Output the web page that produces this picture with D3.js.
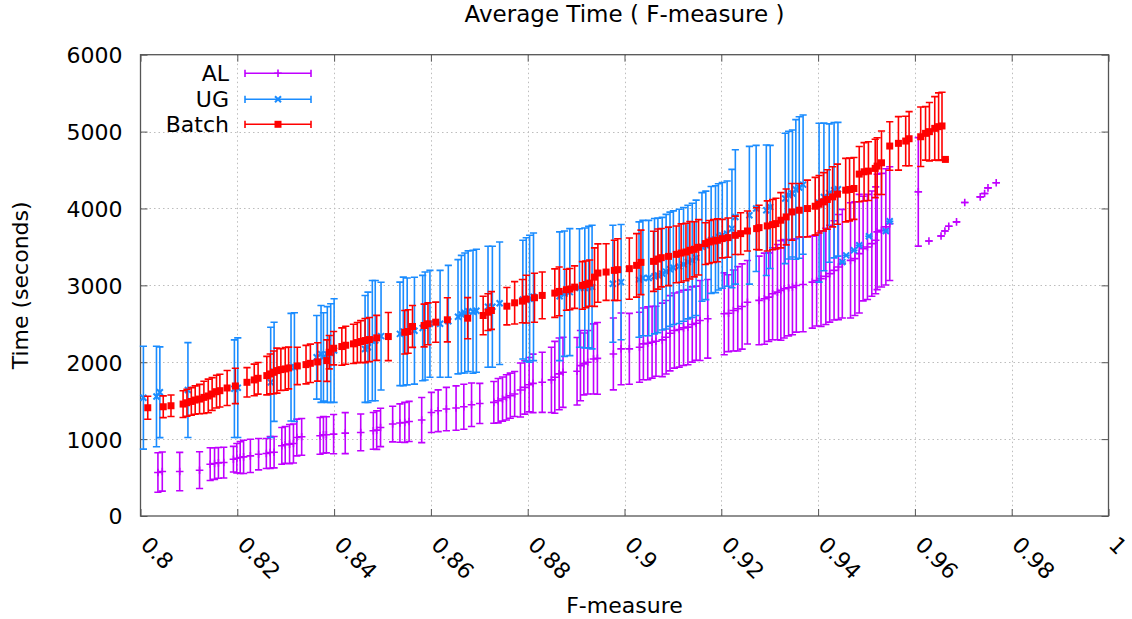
<!DOCTYPE html>
<html><head><meta charset="utf-8">
<script src="https://cdn.jsdelivr.net/npm/d3@7/dist/d3.min.js"></script>
<style>body{margin:0;background:#fff}svg{display:block}</style>
</head><body><svg id="c" width="1132" height="619"></svg>
<script>
// ---------------- data ----------------
const seriesNames = ["AL", "UG", "Batch"];
const xTicks = [0.8, 0.82, 0.84, 0.86, 0.88, 0.9, 0.92, 0.94, 0.96, 0.98, 1];
const xTickLabels = ["0.8", "0.82", "0.84", "0.86", "0.88", "0.9", "0.92", "0.94", "0.96", "0.98", "1"];
const yTicks = [0, 1000, 2000, 3000, 4000, 5000, 6000];
const yTickLabels = ["0", "1000", "2000", "3000", "4000", "5000", "6000"];

const alX = [0.8036,0.8045,0.8081,0.8122,0.8144,0.8153,0.8161,0.8172,0.8192,0.8199,
0.8206,0.8213,0.8227,0.8244,0.8260,0.8268,0.8276,0.8292,0.8299,0.8308,
0.8316,0.8323,0.8333,0.8371,0.8378,0.8384,0.8399,0.8423,0.8455,0.8481,
0.8488,0.8496,0.8521,0.8536,0.8546,0.8555,0.8581,0.8601,0.8615,0.8632,
0.8652,0.8668,0.8684,0.8701,0.8730,0.8739,0.8748,0.8756,0.8764,0.8773,
0.8785,0.8794,0.8803,0.8811,0.8830,0.8849,0.8856,0.8865,0.8873,0.8902,
0.8909,0.8916,0.8924,0.8936,0.8944,0.8977,0.8993,0.9010,0.9031,0.9039,
0.9048,0.9057,0.9065,0.9078,0.9086,0.9094,0.9103,0.9113,0.9122,0.9131,
0.9140,0.9148,0.9156,0.9172,0.9206,0.9215,0.9225,0.9234,0.9243,0.9254,
0.9278,0.9289,0.9298,0.9306,0.9316,0.9323,0.9330,0.9339,0.9347,0.9355,
0.9369,0.9388,0.9397,0.9406,0.9416,0.9424,0.9433,0.9442,0.9450,0.9467,
0.9476,0.9485,0.9493,0.9502,0.9511,0.9519,0.9522,0.9531,0.9540,0.9548,
0.9607,0.9629,0.9654,0.9662,0.9670,0.9686,0.9703,0.9735,0.9744,0.9751,0.9768];
const alY = [565,578,578,596,674,682,691,695,739,752,
761,769,782,804,813,826,830,913,926,935,
943,1021,1030,1043,1056,1056,1065,1078,1087,1108,
1117,1152,1196,1209,1217,1230,1248,1347,1369,1391,
1404,1421,1447,1464,1478,1500,1521,1543,1565,1587,
1639,1673,1708,1725,1739,1770,1804,1848,1869,1882,
1956,1978,1999,2043,2050,2108,2174,2174,2195,2239,
2247,2260,2273,2291,2325,2377,2412,2425,2447,2456,
2491,2508,2543,2565,2630,2638,2673,2695,2725,2781,
2804,2826,2847,2891,2912,2934,2956,2969,2977,2999,
3012,3042,3064,3086,3117,3152,3195,3238,3282,3325,
3347,3412,3478,3499,3543,3586,3695,3717,3760,3803,
4216,3577,3642,3707,3769,3825,4077,4151,4195,4268,4334];
const alErr = [257,254,250,239,213,206,200,200,167,191,
206,217,217,204,195,206,204,239,239,256,
254,239,239,239,239,235,256,267,239,239,
250,250,232,250,261,261,293,261,272,282,
289,293,282,261,272,289,287,295,293,293,
352,348,354,380,391,424,467,467,456,439,
456,402,413,456,467,467,467,461,456,467,
474,467,456,478,478,489,489,489,489,489,
489,482,521,511,532,500,526,548,554,543,
576,593,576,598,619,648,641,626,619,608,
615,598,593,619,626,630,645,684,706,750,
739,771,680,684,684,695,750,739,756,739,
706,0,0,0,0,0,0,0,0,0,0];

const ugX = [0.8006,0.8033,0.8040,0.8098,0.8194,0.8201,0.8269,0.8276,0.8311,0.8318,
0.8364,0.8373,0.8378,0.8386,0.8393,0.8400,0.8464,0.8470,0.8479,0.8485,
0.8497,0.8536,0.8543,0.8551,0.8566,0.8583,0.8588,0.8598,0.8619,0.8636,
0.8656,0.8663,0.8670,0.8677,0.8687,0.8694,0.8718,0.8727,0.8742,0.8790,
0.8797,0.8804,0.8812,0.8866,0.8876,0.8887,0.8907,0.8918,0.8926,0.8933,
0.8976,0.8993,0.9030,0.9038,0.9050,0.9062,0.9069,0.9078,0.9086,0.9094,
0.9101,0.9113,0.9122,0.9131,0.9140,0.9148,0.9160,0.9168,0.9179,0.9188,
0.9194,0.9202,0.9212,0.9222,0.9229,0.9258,0.9272,0.9293,0.9301,0.9332,
0.9339,0.9347,0.9354,0.9361,0.9369,0.9402,0.9412,0.9423,0.9433,0.9441,
0.9450,0.9458,0.9474,0.9485,0.9505,0.9540,0.9548];
const ugY = [1539,1554,1610,1638,1656,1669,1738,1876,1936,1936,
2064,2108,2069,2100,2119,2152,2173,2195,2282,2282,
2340,2369,2401,2401,2410,2445,2471,2500,2500,2532,
2591,2623,2640,2664,2656,2670,2721,2721,2767,2815,
2815,2825,2851,2858,2891,2912,2966,2966,2977,2978,
3021,3042,3075,3095,3095,3119,3130,3152,3178,3210,
3230,3247,3273,3303,3325,3358,3500,3520,3590,3600,
3630,3650,3673,3738,3890,3912,4000,3977,4020,4130,
4173,4195,4247,4273,4310,4075,4150,4200,4238,4250,
3303,3390,3456,3521,3638,3707,3834];
const ugErr = [669,654,590,617,635,648,717,645,700,707,
544,630,575,623,641,674,695,717,782,782,
701,673,706,695,695,685,702,695,695,728,
743,767,780,785,800,800,787,787,797,772,
804,826,830,837,815,826,771,780,790,804,
761,750,750,750,750,750,745,732,745,743,
739,743,739,739,743,750,706,706,695,695,
691,688,685,770,874,896,820,848,800,848,
830,826,908,920,906,1033,960,900,880,870,
0,0,0,0,0,0,0];

const batchX = [0.8015,0.8047,0.8063,0.8088,0.8096,0.8105,0.8113,0.8122,0.8131,0.8140,
0.8148,0.8157,0.8164,0.8179,0.8196,0.8220,0.8235,0.8243,0.8261,0.8268,
0.8275,0.8282,0.8290,0.8299,0.8306,0.8324,0.8342,0.8351,0.8366,0.8385,
0.8390,0.8399,0.8416,0.8424,0.8440,0.8448,0.8455,0.8464,0.8473,0.8488,
0.8512,0.8546,0.8553,0.8562,0.8586,0.8594,0.8610,0.8634,0.8676,0.8708,
0.8718,0.8725,0.8757,0.8773,0.8789,0.8797,0.8814,0.8830,0.8856,0.8865,
0.8880,0.8887,0.8897,0.8913,0.8920,0.8928,0.8938,0.8945,0.8962,0.8979,
0.8986,0.9010,0.9025,0.9034,0.9060,0.9069,0.9076,0.9091,0.9107,0.9117,
0.9127,0.9135,0.9144,0.9153,0.9167,0.9175,0.9184,0.9192,0.9202,0.9214,
0.9229,0.9240,0.9254,0.9273,0.9278,0.9295,0.9306,0.9313,0.9323,0.9334,
0.9346,0.9361,0.9378,0.9394,0.9402,0.9411,0.9419,0.9430,0.9440,0.9457,
0.9465,0.9474,0.9485,0.9495,0.9504,0.9518,0.9522,0.9531,0.9548,0.9566,
0.9581,0.9588,0.9612,0.9622,0.9630,0.9641,0.9649,0.9656,0.9663];
const batchY = [1408,1421,1434,1456,1473,1490,1508,1521,1543,1561,
1587,1617,1630,1665,1691,1739,1770,1791,1826,1848,
1869,1891,1904,1913,1925,1952,1969,1986,2004,2021,
2130,2182,2204,2221,2239,2256,2269,2282,2295,2317,
2334,2390,2399,2465,2478,2500,2521,2552,2573,2608,
2651,2673,2729,2773,2795,2821,2839,2869,2899,2921,
2943,2951,2977,2999,3012,3029,3107,3160,3173,3195,
3204,3217,3260,3299,3312,3342,3360,3377,3403,3420,
3434,3456,3469,3495,3543,3564,3577,3586,3608,3621,
3651,3673,3707,3738,3751,3773,3790,3803,3847,3890,
3955,3977,3999,4029,4055,4086,4117,4151,4186,4238,
4247,4260,4447,4477,4486,4521,4551,4594,4812,4847,
4877,4907,4933,4977,4999,5042,5064,5073,4638];
const batchErr = [150,142,140,174,176,180,185,191,209,219,
213,213,213,228,230,191,206,206,250,260,
278,293,272,278,272,243,250,250,250,270,
217,217,243,248,256,261,272,287,287,293,
313,283,283,272,278,272,261,287,267,250,
239,245,243,275,282,311,319,304,315,317,
267,269,276,309,304,300,380,380,369,391,
402,398,413,419,391,391,380,380,369,380,
374,374,359,360,272,280,280,280,250,255,
250,272,261,272,290,326,326,330,359,363,
369,348,369,376,374,380,387,391,391,413,
408,402,359,380,382,380,369,413,315,348,
322,352,387,348,380,413,439,439,0];

// ---------------- drawing ----------------
const colors = ["#c000ff", "#1a8cff", "#ff0000"];
const markerKinds = ["plus", "cross", "square"];
const FONT = "'DejaVu Sans', 'Liberation Sans', sans-serif";
const FS = 22;

const svg = d3.select("#c");
const L = 140.5, R = 1108.5, T = 54.7, B = 516;
const x = d3.scaleLinear().domain([0.8, 1]).range([L, R]);
const y = d3.scaleLinear().domain([0, 6000]).range([B, T]);

// grid
const grid = svg.append("g").attr("stroke", "#bdbdbd").attr("stroke-width", 1).attr("stroke-dasharray", "1.5,3");
grid.selectAll("line.v").data(xTicks.slice(1, -1)).join("line")
  .attr("x1", d => Math.round(x(d)) + 0.5).attr("x2", d => Math.round(x(d)) + 0.5)
  .attr("y1", T).attr("y2", B);
grid.selectAll("line.h").data(yTicks.slice(1, -1)).join("line")
  .attr("x1", L).attr("x2", R)
  .attr("y1", d => Math.round(y(d)) + 0.5).attr("y2", d => Math.round(y(d)) + 0.5);

// axes
function styleAxis(g) {
  g.select(".domain").remove();
  g.selectAll(".tick line").attr("stroke", "#555").attr("stroke-width", 1);
  g.selectAll("text").attr("font-family", FONT).attr("font-size", FS).attr("fill", "#000");
}
const ax = svg.append("g").attr("transform", `translate(0,${B})`)
  .call(d3.axisBottom(x).tickValues(xTicks).tickSize(-7).tickFormat((d, i) => xTickLabels[i]))
  .call(styleAxis);
ax.selectAll(".tick text").attr("x", 0).attr("y", 0).attr("dy", 0)
  .attr("text-anchor", "start").attr("transform", "translate(-1.5,30) rotate(45)");
svg.append("g").attr("transform", `translate(0,${T})`)
  .call(d3.axisTop(x).tickValues(xTicks).tickSize(-7).tickFormat(""))
  .call(styleAxis);
svg.append("g").attr("transform", `translate(${L},0)`)
  .call(d3.axisLeft(y).tickValues(yTicks).tickSize(-7).tickPadding(18).tickFormat((d, i) => yTickLabels[i]))
  .call(styleAxis)
  .selectAll(".tick text").attr("dy", "0.36em");
svg.append("g").attr("transform", `translate(${R},0)`)
  .call(d3.axisRight(y).tickValues(yTicks).tickSize(-7).tickFormat(""))
  .call(styleAxis);

// border
svg.append("rect").attr("x", L).attr("y", T).attr("width", R - L).attr("height", B - T)
  .attr("fill", "none").attr("stroke", "#555").attr("stroke-width", 1.3);

// series
function drawMarker(g, kind, cx, cy, color) {
  if (kind === "square") {
    g.append("rect").attr("x", cx - 3.5).attr("y", cy - 3.5).attr("width", 7).attr("height", 7).attr("fill", color);
  } else if (kind === "plus") {
    g.append("path").attr("d", `M${cx - 3.8},${cy}H${cx + 3.8}M${cx},${cy - 3.8}V${cy + 3.8}`)
      .attr("stroke", color).attr("stroke-width", 1.6).attr("fill", "none");
  } else {
    g.append("path").attr("d", `M${cx - 3},${cy - 3}L${cx + 3},${cy + 3}M${cx - 3},${cy + 3}L${cx + 3},${cy - 3}`)
      .attr("stroke", color).attr("stroke-width", 2).attr("fill", "none");
  }
}
function drawSeries(xs, ys, es, idx) {
  const color = colors[idx];
  const g = svg.append("g");
  const cap = 3.6;
  xs.forEach((xv, i) => {
    const cx = x(xv), y0 = y(ys[i] - es[i]), y1 = y(ys[i] + es[i]);
    g.append("path")
      .attr("d", `M${cx},${y0}V${y1}M${cx - cap},${y0}H${cx + cap}M${cx - cap},${y1}H${cx + cap}`)
      .attr("stroke", color).attr("stroke-width", 1.6).attr("fill", "none");
  });
  xs.forEach((xv, i) => drawMarker(g, markerKinds[idx], x(xv), y(ys[i]), color));
}
drawSeries(alX, alY, alErr, 0);
drawSeries(ugX, ugY, ugErr, 1);
drawSeries(batchX, batchY, batchErr, 2);

// legend
const legY = [73.3, 99.3, 124.3];
seriesNames.forEach((name, i) => {
  const g = svg.append("g");
  g.append("text").attr("x", 229).attr("y", legY[i]).attr("dy", "0.36em")
    .attr("text-anchor", "end").attr("font-family", FONT).attr("font-size", FS).text(name);
  const x0 = 245, x1 = 311, yy = legY[i];
  g.append("path").attr("d", `M${x0},${yy}H${x1}M${x0},${yy - 3.6}V${yy + 3.6}M${x1},${yy - 3.6}V${yy + 3.6}`)
    .attr("stroke", colors[i]).attr("stroke-width", 1.6).attr("fill", "none");
  drawMarker(g, markerKinds[i], (x0 + x1) / 2, yy, colors[i]);
});

// titles
svg.append("text").attr("x", (L + R) / 2).attr("y", 22).attr("text-anchor", "middle")
  .attr("font-family", FONT).attr("font-size", 23).text("Average Time ( F-measure )");
svg.append("text").attr("x", (L + R) / 2).attr("y", 613).attr("text-anchor", "middle")
  .attr("font-family", FONT).attr("font-size", FS).text("F-measure");
svg.append("text").attr("transform", `translate(28,${(T + B) / 2}) rotate(-90)`).attr("text-anchor", "middle")
  .attr("font-family", FONT).attr("font-size", FS).text("Time (seconds)");
</script>
</body></html>
